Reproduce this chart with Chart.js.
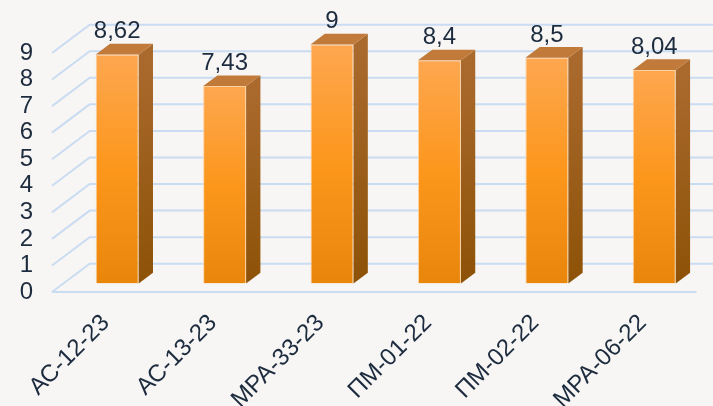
<!DOCTYPE html>
<html>
<head>
<meta charset="utf-8">
<script src="https://cdn.jsdelivr.net/npm/chart.js@4.4.1/dist/chart.umd.min.js"></script>
<style>
  html, body { margin: 0; padding: 0; background: #f7f6f4; }
  #wrap { width: 713px; height: 406px; position: relative; }
</style>
</head>
<body>
<div id="wrap"><canvas id="myChart"></canvas></div>
<script>
// data
const groups = ['АС-12-23', 'АС-13-23', 'МРА-33-23', 'ПМ-01-22', 'ПМ-02-22', 'МРА-06-22'];
const scores = [8.62, 7.43, 9, 8.4, 8.5, 8.04];
const yTicks = [0, 1, 2, 3, 4, 5, 6, 7, 8, 9];

// fake 3d: where the bars stand, how deep they are, how deep the wall is
const barShift = { x: 11.5, y: -8.6 };
const barDepth = { x: 14.3, y: -10.7 };
const wallDepth = { x: 37.7, y: -28.3 };

const textColor = '#1c2b3e';
const gridColor = '#cadcf2';
const fontFamily = '"Liberation Sans", Arial, sans-serif';

function frontFill(ctx) {
  const chart = ctx.chart;
  if (!chart.chartArea || ctx.parsed == null) return '#f7941d';
  const yScale = chart.scales.y;
  const top = yScale.getPixelForValue(ctx.parsed.y);
  const bottom = yScale.getPixelForValue(0);
  const g = chart.ctx.createLinearGradient(0, top, 0, bottom);
  g.addColorStop(0, '#fea750');
  g.addColorStop(0.5, '#fc971c');
  g.addColorStop(1, '#e8860b');
  return g;
}

const fake3d = {
  id: 'fake3d',
  beforeDatasetsDraw(chart) {
    const c = chart.ctx;
    const area = chart.chartArea;
    const yScale = chart.scales.y;
    c.save();
    c.strokeStyle = gridColor;
    c.lineWidth = 2;
    yTicks.forEach(v => {
      const y = yScale.getPixelForValue(v);
      c.beginPath();
      c.moveTo(area.left, y);
      c.lineTo(area.left + wallDepth.x, y + wallDepth.y);
      c.lineTo(chart.width, y + wallDepth.y);
      c.stroke();
    });
    // front edge of the floor
    const y0 = yScale.getPixelForValue(0);
    c.beginPath();
    c.moveTo(area.left, y0);
    c.lineTo(area.right, y0);
    c.stroke();
    c.restore();
  },
  beforeDatasetDraw(chart) {
    chart.ctx.save();
    chart.ctx.translate(barShift.x, barShift.y);
  },
  afterDatasetDraw(chart, args) {
    const c = chart.ctx;
    const meta = args.meta;
    meta.data.forEach(bar => {
      const p = bar.getProps(['x', 'y', 'base', 'width'], true);
      const r = p.x + p.width / 2;
      const l = p.x - p.width / 2;
      // side
      const side = c.createLinearGradient(0, p.y, 0, p.base);
      side.addColorStop(0, '#aa6a2e');
      side.addColorStop(1, '#8d5207');
      c.fillStyle = side;
      c.beginPath();
      c.moveTo(r, p.y);
      c.lineTo(r + barDepth.x, p.y + barDepth.y);
      c.lineTo(r + barDepth.x, p.base + barDepth.y);
      c.lineTo(r, p.base);
      c.closePath();
      c.fill();
      // top
      c.fillStyle = '#c27a3b';
      c.beginPath();
      c.moveTo(l, p.y);
      c.lineTo(l + barDepth.x, p.y + barDepth.y);
      c.lineTo(r + barDepth.x, p.y + barDepth.y);
      c.lineTo(r, p.y);
      c.closePath();
      c.fill();
    });
    // value labels
    c.fillStyle = textColor;
    c.font = '24px ' + fontFamily;
    c.textAlign = 'center';
    c.textBaseline = 'alphabetic';
    meta.data.forEach((bar, i) => {
      const p = bar.getProps(['x', 'y'], true);
      c.fillText(String(scores[i]).replace('.', ','), p.x, p.y - 16);
    });
    c.restore();
  }
};

new Chart(document.getElementById('myChart'), {
  type: 'bar',
  data: {
    labels: groups,
    datasets: [{
      data: scores,
      backgroundColor: frontFill,
      borderColor: 'rgba(255,205,150,0.9)',
      borderWidth: 1,
      barPercentage: 0.8,
      categoryPercentage: 0.5
    }]
  },
  options: {
    responsive: true,
    maintainAspectRatio: false,
    animation: false,
    layout: { padding: { top: 53, right: 16.5, left: 0, bottom: 0 } },
    plugins: { legend: { display: false }, tooltip: { enabled: false } },
    scales: {
      x: {
        grid: { display: false },
        border: { display: false },
        ticks: {
          color: textColor,
          font: { size: 24, family: fontFamily },
          minRotation: 45,
          maxRotation: 45,
          autoSkip: false,
          padding: 9
        },
        afterFit(scale) { scale.height = 114; }
      },
      y: {
        min: 0,
        max: 9,
        grid: { display: false, drawTicks: false },
        border: { display: false },
        ticks: {
          stepSize: 1,
          autoSkip: false,
          color: textColor,
          font: { size: 24, family: fontFamily },
          padding: 19
        },
        afterFit(scale) { scale.width = 52; }
      }
    }
  },
  plugins: [fake3d]
});
</script>
</body>
</html>
